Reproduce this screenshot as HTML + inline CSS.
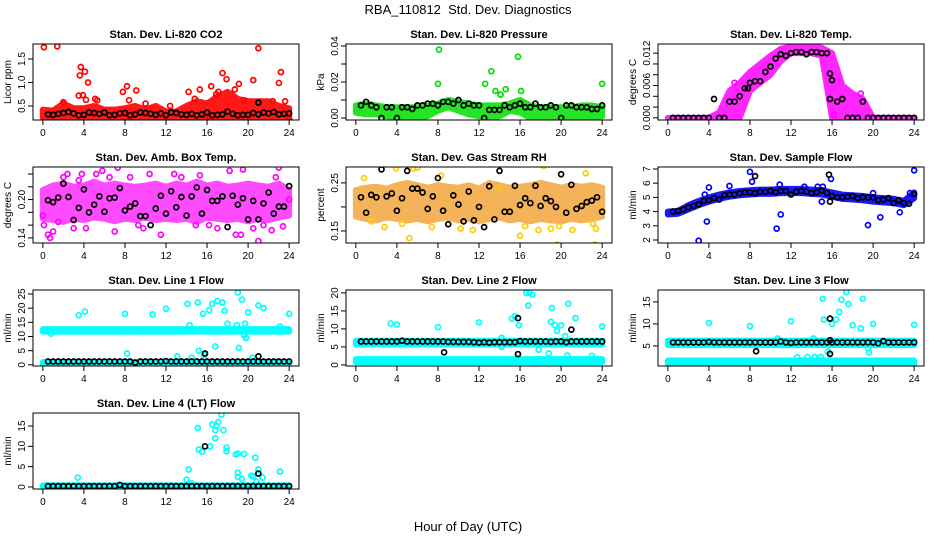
<!DOCTYPE html>
<html><head><meta charset="utf-8">
<style>
html,body{margin:0;padding:0;background:#fff;}
svg{display:block;font-family:"Liberation Sans",Arial,sans-serif;}
</style></head>
<body>
<svg id="chart" width="936" height="540" viewBox="0 0 936 540" xmlns="http://www.w3.org/2000/svg">
<rect width="936" height="540" fill="#fff"/>
<text x="468" y="14" text-anchor="middle" font-size="13">RBA_110812 &#160;Std. Dev. Diagnostics</text>
<text x="468" y="531" text-anchor="middle" font-size="13">Hour of Day (UTC)</text>
</svg>
<script>
const blackHours=[0.5,1,1.5,2,2.5,3,3.5,4,4.5,5,5.5,6,6.5,7,7.5,8,8.5,9,9.5,10,10.5,11,11.5,12,12.5,13,13.5,14,14.5,15,15.5,16,16.5,17,17.5,18,18.5,19,19.5,20,20.5,21,21.5,22,22.5,23,23.5,24];
const bandHours=[0,1,2,3,4,5,6,7,8,9,10,11,12,13,14,15,16,17,18,19,20,21,22,23,24];
const flatHours=[0,24];
const xTicks=[0,4,8,12,16,20,24];

// P1 CO2
const co2BandLo=[0.25,0.25,0.25,0.25,0.25,0.25,0.25,0.25,0.25,0.25,0.25,0.25,0.25,0.25,0.25,0.25,0.25,0.25,0.25,0.25,0.25,0.25,0.25,0.25,0.25];
const co2BandHi=[0.42,0.4,0.55,0.45,0.45,0.5,0.42,0.42,0.45,0.5,0.42,0.5,0.38,0.38,0.5,0.6,0.55,0.7,0.8,0.65,0.6,0.6,0.6,0.5,0.45];
const co2OutX=[0.1,1.4,3.6,3.7,4.1,4.4,3.5,3.9,4.2,5.1,7.8,8.2,9.1,8.4,10.0,14.2,15.3,16.4,17.5,17.9,17.1,18.7,19.1,20.5,21.0,23.0,23.2,23.6,24.0,15.9,2.0,5.3,12.4,14.8,16.9,19.6,22.4];
const co2OutY=[1.75,1.77,1.15,1.33,1.23,1.0,0.72,0.73,0.63,0.65,0.8,0.92,0.83,0.62,0.55,0.8,0.85,0.92,1.2,1.07,0.8,0.85,0.97,1.05,1.73,0.99,1.22,0.6,0.22,0.21,0.58,0.62,0.5,0.65,0.75,0.62,0.6];
const co2Black=[0.32,0.31,0.33,0.35,0.37,0.34,0.3,0.31,0.36,0.35,0.33,0.36,0.3,0.31,0.34,0.35,0.3,0.32,0.36,0.35,0.33,0.31,0.34,0.3,0.36,0.35,0.32,0.31,0.33,0.3,0.32,0.36,0.3,0.31,0.32,0.38,0.33,0.3,0.31,0.31,0.35,0.32,0.36,0.34,0.37,0.32,0.33,0.34];
const co2ExtraX=[21.0], co2ExtraY=[0.57];

// P2 Pressure
const presBandLo=[0.003,0.002,0.002,0.001,0,0,0,0.001,0.004,0.006,0.004,0.002,0.001,0,0.001,0.004,0.003,0,0,0,0,0,0,0,0.001];
const presBandHi=[0.007,0.008,0.007,0.006,0.006,0.006,0.006,0.007,0.008,0.01,0.009,0.008,0.007,0.007,0.007,0.008,0.01,0.007,0.006,0.006,0.006,0.006,0.007,0.007,0.006];
const presOutX=[8.1,8.0,12.6,13.2,13.6,14.1,14.6,15.8,16.1,24.0];
const presOutY=[0.038,0.019,0.019,0.026,0.015,0.013,0.016,0.034,0.015,0.019];
const presBlack=[0.007,0.009,0.007,0.006,0.0,0.006,0.006,0.0,0.006,0.006,0.005,0.007,0.007,0.008,0.008,0.007,0.009,0.009,0.008,0.01,0.007,0.008,0.007,0.007,0.0,0.0045,0.0045,0.0045,0.007,0.006,0.007,0.008,0.006,0.006,0.008,0.006,0.006,0.007,0.006,0.0,0.007,0.007,0.006,0.006,0.006,0.005,0.005,0.007];
const presExtraX=[], presExtraY=[];

// P3 Temp
const tempBandLo=[0,0,0,0,0,0,0,0,0.005,0.0065,0.008,0.0105,0.012,0.012,0.012,0.0115,0,0,0,0,0,0,0,0,0];
const tempBandHi=[0,0,0,0,0,0.001,0.005,0.0065,0.0085,0.01,0.0115,0.0128,0.0132,0.0132,0.0132,0.013,0.012,0.006,0.0045,0.0035,0,0,0,0,0];
const tempOutX=[6.5,18.8,16.2];
const tempOutY=[0.0065,0.0045,0.0005];
const tempBlack=[0,0,0,0,0,0,0,0,0.0035,0,0,0.003,0.003,0.004,0.0055,0.0065,0.0068,0.0068,0.0085,0.0095,0.011,0.0118,0.0115,0.012,0.0122,0.0122,0.0118,0.0122,0.0122,0.012,0.012,0.007,0.003,0.0035,0,0,0,0.003,0,0,0,0,0,0,0,0,0,0];
const tempExtraX=[15.8,15.8,7.8], tempExtraY=[0.0082,0.0035,0.0055];

// P4 Amb box
const ambBandLo=[0.17,0.168,0.165,0.17,0.168,0.172,0.17,0.166,0.17,0.168,0.172,0.168,0.17,0.168,0.17,0.165,0.172,0.17,0.168,0.17,0.166,0.17,0.168,0.172,0.175];
const ambBandHi=[0.215,0.222,0.225,0.22,0.222,0.228,0.222,0.225,0.222,0.22,0.222,0.225,0.22,0.225,0.222,0.228,0.222,0.225,0.22,0.222,0.225,0.222,0.22,0.225,0.215];
const ambOutX=[0.0,0.1,0.5,0.7,1.0,1.5,2.0,2.4,3.0,3.5,4.2,5.2,5.8,6.5,7.0,7.3,8.5,9.3,10.4,11.5,12.8,13.5,14.9,16.2,17.0,18.2,18.8,19.3,19.5,20.5,21.0,21.5,22.3,23.0,23.4,24.0,3.8,9.8,15.3,22.7];
const ambOutY=[0.175,0.16,0.145,0.14,0.15,0.165,0.235,0.24,0.155,0.23,0.155,0.24,0.245,0.235,0.15,0.25,0.235,0.16,0.24,0.145,0.24,0.235,0.16,0.16,0.155,0.245,0.145,0.145,0.247,0.155,0.135,0.16,0.152,0.25,0.158,0.2,0.24,0.155,0.238,0.235];
const ambBlack=[0.199,0.196,0.203,0.225,0.204,0.168,0.187,0.216,0.18,0.192,0.205,0.181,0.202,0.203,0.218,0.183,0.189,0.194,0.174,0.174,0.16,0.186,0.206,0.178,0.213,0.188,0.204,0.175,0.205,0.219,0.178,0.215,0.198,0.198,0.205,0.157,0.206,0.192,0.202,0.169,0.198,0.169,0.194,0.211,0.178,0.189,0.189,0.221];
const ambExtraX=[], ambExtraY=[];

// P5 RH
const rhBandLo=[0.18,0.175,0.172,0.178,0.175,0.172,0.175,0.17,0.175,0.178,0.172,0.175,0.17,0.175,0.178,0.172,0.175,0.17,0.175,0.172,0.17,0.175,0.172,0.175,0.18];
const rhBandHi=[0.235,0.24,0.242,0.238,0.245,0.25,0.245,0.24,0.245,0.242,0.24,0.245,0.238,0.25,0.245,0.24,0.242,0.245,0.25,0.245,0.24,0.245,0.242,0.245,0.24];
const rhOutX=[0.8,1.5,2.8,3.9,4.5,5.2,5.6,6.0,7.4,8.3,10.2,11.4,14.0,16.0,16.5,17.8,18.3,19.0,19.6,19.8,21.1,22.4,23.1,23.3,23.4];
const rhOutY=[0.26,0.17,0.158,0.28,0.165,0.135,0.28,0.282,0.158,0.265,0.155,0.152,0.24,0.14,0.16,0.152,0.285,0.155,0.122,0.16,0.152,0.27,0.165,0.122,0.155];
const rhBlack=[0.22,0.188,0.225,0.22,0.278,0.222,0.228,0.192,0.218,0.275,0.238,0.238,0.23,0.196,0.222,0.26,0.192,0.164,0.224,0.205,0.17,0.232,0.172,0.2,0.158,0.243,0.174,0.275,0.19,0.19,0.244,0.204,0.218,0.208,0.244,0.202,0.218,0.212,0.2,0.268,0.188,0.246,0.196,0.202,0.21,0.213,0.22,0.19];
const rhExtraX=[], rhExtraY=[];

// P6 Sample flow
const flowBandLo=[3.8,3.85,4.15,4.45,4.7,4.9,5.05,5.15,5.2,5.25,5.25,5.3,5.3,5.3,5.25,5.2,5.05,4.9,4.85,4.8,4.7,4.65,4.6,4.45,4.95];
const flowBandHi=[4.0,4.05,4.45,4.75,5.0,5.2,5.35,5.45,5.5,5.55,5.55,5.6,5.6,5.6,5.55,5.5,5.35,5.2,5.15,5.1,5.0,4.95,4.9,4.75,5.35];
const flowOutX=[3.0,3.8,4.0,3.6,6.0,8.0,8.2,10.6,11.0,10.9,13.3,14.6,15.1,15.0,15.9,19.5,20.0,20.7,22.6,24.0,23.6];
const flowOutY=[1.95,3.3,5.7,5.2,5.8,6.8,6.1,2.8,3.8,5.9,5.75,5.75,5.75,4.7,6.3,3.05,5.3,3.6,3.95,6.9,5.3];
const flowBlack=[4.0,4.05,4.15,4.3,4.4,4.5,4.75,4.8,4.95,4.85,5.15,5.2,5.2,5.3,5.35,5.35,5.3,5.4,5.4,5.45,5.35,5.45,5.45,5.2,5.4,5.45,5.4,5.3,5.35,5.5,5.3,5.1,5.0,5.0,5.05,5.1,4.95,5.0,5.0,5.0,4.8,4.85,4.95,4.6,4.8,4.6,4.55,5.25];
const flowExtraX=[8.5,15.7,15.8], flowExtraY=[6.5,6.6,4.7];

// P7 Line 1
const l1BandALo=[11.7,11.7], l1BandAHi=[12.6,12.6];
const l1BandBLo=[0.3,0.3], l1BandBHi=[1.0,1.0];
const l1OutX=[3.5,4.1,8.0,8.2,10.7,12.0,13.1,14.1,14.5,14.3,15.1,15.2,15.6,15.7,16.2,16.5,16.8,17.0,17.5,17.7,18.0,18.9,19.0,19.1,19.4,19.7,19.8,19.6,20.0,20.4,21.0,21.5,23.1,24.0,0.8];
const l1OutY=[17.5,18.8,18,4,17.8,19.8,3,21.5,2.5,14,22,5,18,3.5,19.3,21.5,6.5,22.5,22,19,14.5,14,25.5,6,23,14.5,9.5,10.5,18.5,2.5,21,20,13.5,18,11];
const l1Black=[1.2,1.2,1.2,1.2,1.2,1.2,1.2,1.2,1.2,1.2,1.2,1.2,1.2,1.2,1.2,1.2,1.2,0.8,1.2,1.2,1.2,1.2,1.2,1.3,1.2,1.2,1.2,1.2,1.2,1.2,1.2,1.2,1.2,1.2,1.2,1.2,1.2,1.2,1.2,1.2,1.2,1.2,1.2,1.2,1.2,1.2,1.2,1.2];
const l1ExtraX=[15.8,21.0], l1ExtraY=[4,3];

// P8 Line 2
const l2BandALo=[5.7,5.7], l2BandAHi=[6.7,6.7];
const l2BandBLo=[0.8,0.8], l2BandBHi=[1.6,1.6];
const l2OutX=[3.4,4.0,8.0,12.0,14.2,14.2,15.2,15.5,15.9,16.6,16.8,16.9,17.2,17.8,18.8,19.0,19.1,19.4,19.6,20.0,20.4,20.6,20.7,21.4,23.0,24.0];
const l2OutY=[11.5,11.2,10.5,11.8,7.5,5,12.8,13.5,11,20,16.5,20,19.5,4.2,3.2,12,15.8,11,9.5,11,8,2.6,17,13,2.5,10.7];
const l2Black=[6.5,6.5,6.5,6.5,6.5,6.5,6.5,6.5,6.7,6.5,6.5,6.5,6.5,6.5,6.5,6.5,6.5,6.4,6.4,6.4,6.4,6.4,6.3,6.2,6.3,6.2,6.3,6.3,6.3,6.3,6.3,6.6,6.5,6.5,6.5,6.5,6.5,6.4,6.5,6.5,6.3,6.5,6.5,6.5,6.5,6.5,6.5,6.5];
const l2ExtraX=[8.6,15.8,15.8,21.0], l2ExtraY=[3.5,13,3,9.8];

// P9 Line 3
const l3BandALo=[5.2,5.2], l3BandAHi=[6.2,6.2];
const l3BandBLo=[0.9,0.9], l3BandBHi=[1.7,1.7];
const l3OutX=[4.0,8.0,10.7,12.0,12.6,13.6,14.2,14.3,14.9,15.1,15.2,15.6,16.0,16.4,16.7,16.9,17.4,17.6,18.0,18.8,19.0,19.6,19.5,20.0,24.0];
const l3OutY=[10.2,9.5,6.7,10.6,2.4,2.5,6.7,2.5,2.5,15.7,11,3.7,10,11,12.7,15.5,17.2,14.5,9.7,9,15.7,3.5,4.5,10,9.8];
const l3Black=[5.8,5.8,5.8,5.8,5.8,5.8,5.8,5.9,5.8,5.8,5.8,5.8,5.8,5.8,5.8,5.8,5.8,5.8,5.8,5.8,5.8,6.0,5.8,5.7,5.8,5.8,5.8,5.8,5.8,5.8,5.8,5.8,5.8,5.8,5.8,5.8,5.8,5.8,5.8,5.8,5.6,6.1,5.8,5.8,5.8,5.8,5.8,5.8];
const l3ExtraX=[8.6,15.8,15.8,15.8], l3ExtraY=[3.8,11.2,3.2,6.3];

// P10 Line 4
const l4BandLo=[0,0], l4BandHi=[0.4,0.4];
const l4OutX=[3.4,14.0,14.2,14.5,15.1,15.2,15.5,16.3,16.5,16.8,16.8,16.9,17.1,17.4,17.6,17.9,17.9,18.8,19.0,19.0,19.0,19.4,19.6,20.3,20.5,20.7,20.8,21.0,21.4,23.1];
const l4OutY=[2.3,1.8,4.3,0.9,14.5,9.2,8.7,10,15.4,14,12,15,16,17.8,14,9.7,8.8,8,8.2,3.5,2.5,2,8.1,2.8,2.6,7.2,1.3,4.3,2.3,3.8];
const l4Black=[0.2,0.2,0.2,0.2,0.2,0.2,0.2,0.2,0.2,0.2,0.2,0.2,0.2,0.2,0.5,0.2,0.2,0.2,0.2,0.2,0.2,0.2,0.2,0.2,0.2,0.2,0.2,0.2,0.2,0.2,0.2,0.2,0.2,0.2,0.2,0.2,0.2,0.2,0.2,0.2,0.2,0.2,0.2,0.2,0.2,0.2,0.2,0.2];
const l4ExtraX=[15.8,21.0], l4ExtraY=[10,3.3];

const NS="http://www.w3.org/2000/svg";
const svg=document.getElementById('chart');
const colX=[33,346,658], rowY=[44,167,290,413], PW=266, PH=76;
const XMIN=-0.96, XMAX=24.96;

function mk(tag,attrs,parent){const e=document.createElementNS(NS,tag);for(const k in attrs)e.setAttribute(k,attrs[k]);(parent||svg).appendChild(e);return e;}

const panels=[
 {key:'co2',c:0,r:0,title:'Stan. Dev. Li-820 CO2',ylab:'Licor ppm',ymin:0.2,ymax:1.82,ticks:[0.5,1.0,1.5],labels:['0.5','1.0','1.5'],color:'#ff0000',op:0.9,
  bands:[[bandHours,co2BandLo,co2BandHi]],outX:co2OutX,outY:co2OutY,black:co2Black,exX:co2ExtraX,exY:co2ExtraY},
 {key:'pressure',c:1,r:0,title:'Stan. Dev. Li-820 Pressure',ylab:'kPa',ymin:-0.0011,ymax:0.0411,ticks:[0,0.01,0.02,0.03,0.04],labels:['0.00','','0.02','','0.04'],color:'#00e000',op:0.85,
  bands:[[bandHours,presBandLo,presBandHi]],outX:presOutX,outY:presOutY,black:presBlack,exX:presExtraX,exY:presExtraY},
 {key:'temp',c:2,r:0,title:'Stan. Dev. Li-820 Temp.',ylab:'degrees C',ymin:-0.0004,ymax:0.0137,ticks:[0,0.002,0.004,0.006,0.008,0.01,0.012],labels:['0.000','','','0.006','','','0.012'],color:'#ff00ff',op:0.85,
  bands:[[bandHours,tempBandLo,tempBandHi]],outX:tempOutX,outY:tempOutY,black:tempBlack,exX:tempExtraX,exY:tempExtraY},
 {key:'amb-box',c:0,r:1,title:'Stan. Dev. Amb. Box Temp.',ylab:'degrees C',ymin:0.132,ymax:0.251,ticks:[0.14,0.16,0.18,0.2,0.22,0.24],labels:['0.14','','','0.20','',''],color:'#ff00ff',op:0.7,
  bands:[[bandHours,ambBandLo,ambBandHi]],outX:ambOutX,outY:ambOutY,black:ambBlack,exX:ambExtraX,exY:ambExtraY},
 {key:'gas-rh',c:1,r:1,title:'Stan. Dev. Gas Stream RH',ylab:'percent',ymin:0.125,ymax:0.283,ticks:[0.15,0.2,0.25],labels:['0.15','','0.25'],color:'#ffcc00',bandColor:'#f2a030',op:0.8,
  bands:[[bandHours,rhBandLo,rhBandHi]],outX:rhOutX,outY:rhOutY,black:rhBlack,exX:rhExtraX,exY:rhExtraY},
 {key:'sample-flow',c:2,r:1,title:'Stan. Dev. Sample Flow',ylab:'ml/min',ymin:1.79,ymax:7.14,ticks:[2,3,4,5,6,7],labels:['2','3','4','5','6','7'],color:'#0000ff',op:0.9,
  bands:[[bandHours,flowBandLo,flowBandHi]],outX:flowOutX,outY:flowOutY,black:flowBlack,exX:flowExtraX,exY:flowExtraY},
 {key:'line1',c:0,r:2,title:'Stan. Dev. Line 1 Flow',ylab:'ml/min',ymin:-0.4,ymax:26.4,ticks:[0,5,10,15,20,25],labels:['0','5','10','15','20','25'],color:'#00ffff',op:1,
  bands:[[flatHours,l1BandALo,l1BandAHi],[flatHours,l1BandBLo,l1BandBHi]],outX:l1OutX,outY:l1OutY,black:l1Black,exX:l1ExtraX,exY:l1ExtraY},
 {key:'line2',c:1,r:2,title:'Stan. Dev. Line 2 Flow',ylab:'ml/min',ymin:-0.3,ymax:20.8,ticks:[0,5,10,15,20],labels:['0','5','10','15','20'],color:'#00ffff',op:1,
  bands:[[flatHours,l2BandALo,l2BandAHi],[flatHours,l2BandBLo,l2BandBHi]],outX:l2OutX,outY:l2OutY,black:l2Black,exX:l2ExtraX,exY:l2ExtraY},
 {key:'line3',c:2,r:2,title:'Stan. Dev. Line 3 Flow',ylab:'ml/min',ymin:0.45,ymax:17.7,ticks:[5,10,15],labels:['5','10','15'],color:'#00ffff',op:1,
  bands:[[flatHours,l3BandALo,l3BandAHi],[flatHours,l3BandBLo,l3BandBHi]],outX:l3OutX,outY:l3OutY,black:l3Black,exX:l3ExtraX,exY:l3ExtraY},
 {key:'line4',c:0,r:3,title:'Stan. Dev. Line 4 (LT) Flow',ylab:'ml/min',ymin:-0.5,ymax:18.2,ticks:[0,5,10,15],labels:['0','5','10','15'],color:'#00ffff',op:1,
  bands:[[flatHours,l4BandLo,l4BandHi]],outX:l4OutX,outY:l4OutY,black:l4Black,exX:l4ExtraX,exY:l4ExtraY}
];

panels.forEach(p=>{
 const x0=colX[p.c], y0=rowY[p.r];
 const g=mk('g',{});
 
 
 const sx=v=>x0+(v-XMIN)/(XMAX-XMIN)*PW;
 const sy=v=>y0+PH-(v-p.ymin)/(p.ymax-p.ymin)*PH;
 const clipId='clip-'+p.key;
 const cp=mk('clipPath',{id:clipId},g);
 mk('rect',{x:x0,y:y0,width:PW,height:PH},cp);
 const dg=mk('g',{'clip-path':'url(#'+clipId+')'},g);
 
 
 const bc=p.bandColor||p.color;
 p.bands.forEach(b=>{
  const xs=b[0],lo=b[1],hi=b[2];
  let pts=[];
  for(let i=0;i<xs.length;i++)pts.push(sx(xs[i])+','+sy(hi[i]));
  for(let i=xs.length-1;i>=0;i--)pts.push(sx(xs[i])+','+sy(lo[i]));
  const poly=mk('polygon',{points:pts.join(' '),fill:bc,stroke:bc,'stroke-width':6,'stroke-linejoin':'round',opacity:p.op},dg);
  
  
 });
 for(let i=0;i<p.outX.length;i++){
  const c=mk('circle',{cx:sx(p.outX[i]),cy:sy(p.outY[i]),r:2.5,fill:'none',stroke:p.color,'stroke-width':1.7},dg);
  
  
 }
 for(let i=0;i<p.black.length;i++){
  const c=mk('circle',{cx:sx(blackHours[i]),cy:sy(p.black[i]),r:2.5,fill:'none',stroke:'#000','stroke-width':1.7},dg);
  
  
 }
 for(let i=0;i<p.exX.length;i++){
  const c=mk('circle',{cx:sx(p.exX[i]),cy:sy(p.exY[i]),r:2.5,fill:'none',stroke:'#000','stroke-width':1.7},dg);
  
  
 }
 const box=mk('rect',{x:x0,y:y0,width:PW,height:PH,fill:'none',stroke:'#000','stroke-width':1},g);
 
 
 const t=mk('text',{x:x0+PW/2,y:y0-6,'text-anchor':'middle','font-size':11,'font-weight':'bold'},g);
 t.textContent=p.title;
 
 
 const yl=mk('text',{transform:'translate('+(x0-22)+','+(y0+PH/2)+') rotate(-90)','text-anchor':'middle','font-size':10},g);
 yl.textContent=p.ylab;
 
 
 mk('line',{x1:sx(0),x2:sx(24),y1:y0+PH,y2:y0+PH,stroke:'#000'},g);
 xTicks.forEach(v=>{
  mk('line',{x1:sx(v),x2:sx(v),y1:y0+PH,y2:y0+PH+5,stroke:'#000'},g);
  const tl=mk('text',{x:sx(v),y:y0+PH+16,'text-anchor':'middle','font-size':10},g);
  tl.textContent=String(v);
  
  
 });
 p.ticks.forEach((v,i)=>{
  mk('line',{x1:x0-5,x2:x0,y1:sy(v),y2:sy(v),stroke:'#000'},g);
  if(p.labels[i]){
   const tl=mk('text',{transform:'translate('+(x0-8)+','+sy(v)+') rotate(-90)','text-anchor':'middle','font-size':10},g);
   tl.textContent=p.labels[i];
   
   
  }
 });
});
</script>
</body></html>
